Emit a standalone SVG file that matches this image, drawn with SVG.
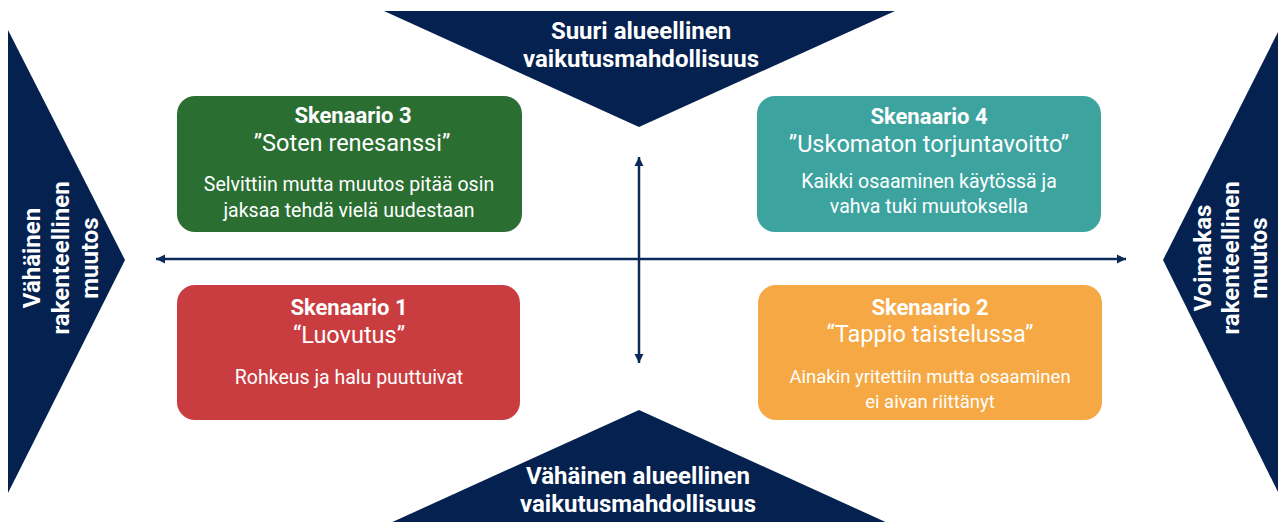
<svg xmlns="http://www.w3.org/2000/svg" width="1278" height="522" viewBox="0 0 1278 522">
<style>
.tri{fill:#04214f}
.tt{font-family:Roboto,"Liberation Sans",sans-serif;font-weight:700;font-size:24px;fill:#ffffff;text-anchor:middle}
.title{font-family:Roboto,"Liberation Sans",sans-serif;font-weight:700;font-size:22px;fill:#ffffff;text-anchor:middle}
.quote{font-family:Roboto,"Liberation Sans",sans-serif;font-weight:400;font-size:23.5px;fill:#ffffff;text-anchor:middle}
.body{font-family:Roboto,"Liberation Sans",sans-serif;font-weight:400;font-size:19.5px;fill:#ffffff;text-anchor:middle}
.axis{stroke:#0b2a5a;stroke-width:2.5;fill:none}
</style>
<defs>
<marker id="ah" viewBox="0 0 10 10" refX="10" refY="5" markerWidth="9" markerHeight="10" markerUnits="userSpaceOnUse" orient="auto-start-reverse">
<path d="M0,0 L10,5 L0,10 z" fill="#0b2a5a"/>
</marker>
</defs>
<g id="top">
<polygon class="tri" points="384,11 895,11 639,127"/>
<text class="tt" x="641" y="39">Suuri alueellinen</text>
<text class="tt" x="641" y="67">vaikutusmahdollisuus</text>
</g>
<g id="bottom">
<polygon class="tri" points="639,410 890,524 388,524"/>
<text class="tt" x="638" y="484">Vähäinen alueellinen</text>
<text class="tt" x="638" y="512">vaikutusmahdollisuus</text>
</g>
<g id="left">
<polygon class="tri" points="8,30 125,260 8,493"/>
<text class="tt" transform="rotate(-90)" x="-258" y="40">Vähäinen</text>
<text class="tt" transform="rotate(-90)" x="-258" y="69">rakenteellinen</text>
<text class="tt" transform="rotate(-90)" x="-258" y="98">muutos</text>
</g>
<g id="right">
<polygon class="tri" points="1278,32 1163,260 1278,492"/>
<text class="tt" transform="rotate(-90)" x="-258" y="1211">Voimakas</text>
<text class="tt" transform="rotate(-90)" x="-258" y="1239">rakenteellinen</text>
<text class="tt" transform="rotate(-90)" x="-258" y="1267">muutos</text>
</g>
<g id="connectors">
<line class="axis" x1="156" y1="259" x2="1126" y2="259" marker-start="url(#ah)" marker-end="url(#ah)"/>
<line class="axis" x1="639" y1="157" x2="639" y2="363" marker-start="url(#ah)" marker-end="url(#ah)"/>
</g>
<g id="s3">
<rect x="177" y="96" width="345" height="136" rx="18" fill="#2a6e32"/>
<text class="title" x="353" y="123">Skenaario 3</text>
<text class="quote" x="352" y="151">”Soten renesanssi”</text>
<text class="body" x="349" y="191">Selvittiin mutta muutos pitää osin</text>
<text class="body" x="349" y="217">jaksaa tehdä vielä uudestaan</text>
</g>
<g id="s4">
<rect x="757" y="96" width="344" height="136" rx="18" fill="#3da39f"/>
<text class="title" x="929" y="124">Skenaario 4</text>
<text class="quote" x="929" y="152">”Uskomaton torjuntavoitto”</text>
<text class="body" x="929" y="188">Kaikki osaaminen käytössä ja</text>
<text class="body" x="929" y="213">vahva tuki muutoksella</text>
</g>
<g id="s1">
<rect x="177" y="285" width="343" height="135" rx="18" fill="#c93d40"/>
<text class="title" x="349" y="315">Skenaario 1</text>
<text class="quote" x="349" y="343">“Luovutus”</text>
<text class="body" x="349" y="384">Rohkeus ja halu puuttuivat</text>
</g>
<g id="s2">
<rect x="758" y="285" width="344" height="135" rx="18" fill="#f5a843"/>
<text class="title" x="930" y="315">Skenaario 2</text>
<text class="quote" x="930" y="342">“Tappio taistelussa”</text>
<text class="body" x="930" y="383" style="font-size:18.5px">Ainakin yritettiin mutta osaaminen</text>
<text class="body" x="930" y="408" style="font-size:18.5px">ei aivan riittänyt</text>
</g>
</svg>
